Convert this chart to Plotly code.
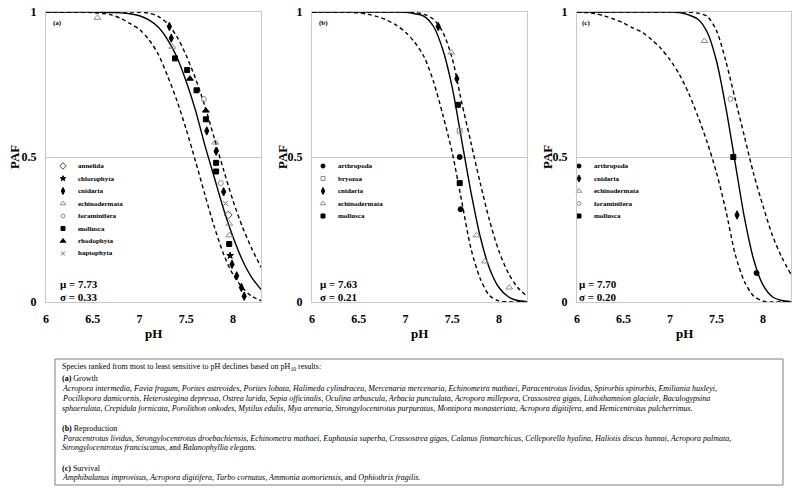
import plotly.graph_objects as go

# ---------------- data ----------------
ph_grid = [6.0, 6.1, 6.2, 6.3, 6.4, 6.5, 6.6, 6.7, 6.8, 6.9, 7.0, 7.1,
           7.2, 7.3, 7.4, 7.5, 7.6, 7.7, 7.8, 7.9, 8.0, 8.1, 8.2, 8.3]

# (a) growth
fit_a = [1, 1, 1, 1, 1, 1, 0.999, 0.998, 0.997, 0.994, 0.987, 0.973,
         0.948, 0.905, 0.845, 0.76, 0.66, 0.54, 0.43, 0.32, 0.225, 0.145, 0.085, 0.043]
lower_a = [1, 1, 1, 1, 0.999, 0.998, 0.995, 0.99, 0.978, 0.96, 0.94, 0.905,
           0.855, 0.78, 0.695, 0.595, 0.485, 0.37, 0.26, 0.165, 0.095, 0.05, 0.02, 0.005]
upper_a = [1, 1, 1, 1, 1, 1, 1, 1, 1, 1, 0.999, 0.996,
           0.985, 0.96, 0.915, 0.85, 0.77, 0.675, 0.565, 0.455, 0.35, 0.26, 0.185, 0.12]
taxa_a = ["cnidaria", "cnidaria", "cnidaria", "cnidaria", "chlorophyta", "mollusca",
          "echinodermata", "echinodermata", "annelida", "haptophyta", "cnidaria",
          "foraminifera", "mollusca", "mollusca", "cnidaria", "echinodermata", "cnidaria",
          "mollusca", "rhodophyta", "foraminifera", "mollusca", "rhodophyta", "mollusca",
          "mollusca", "echinodermata", "cnidaria", "cnidaria", "echinodermata"]
ph_a = [8.12, 8.09, 8.04, 7.99, 7.97, 7.96, 7.96, 7.96, 7.95, 7.92, 7.90, 7.87, 7.82, 7.82,
        7.82, 7.81, 7.72, 7.71, 7.71, 7.69, 7.61, 7.54, 7.51, 7.38, 7.35, 7.34, 7.32, 6.55]
paf_a = [0.02, 0.05, 0.09, 0.13, 0.16, 0.20, 0.23, 0.27, 0.30, 0.34, 0.38, 0.41, 0.45, 0.48,
         0.52, 0.55, 0.59, 0.63, 0.66, 0.70, 0.73, 0.77, 0.80, 0.84, 0.88, 0.91, 0.95, 0.98]
legend_a = ["annelida", "chlorophyta", "cnidaria", "echinodermata",
            "foraminifera", "mollusca", "rhodophyta", "haptophyta"]

# (b) reproduction
fit_b = [1, 1, 1, 1, 1, 1, 1, 1, 1, 1, 0.999, 0.994,
         0.985, 0.95, 0.87, 0.74, 0.56, 0.38, 0.225, 0.115, 0.05, 0.018, 0.005, 0.001]
lower_b = [1, 1, 1, 1, 0.999, 0.997, 0.992, 0.984, 0.972, 0.955, 0.93, 0.895,
           0.845, 0.76, 0.645, 0.515, 0.35, 0.185, 0.08, 0.022, 0.004, 0, 0, 0]
upper_b = [1, 1, 1, 1, 1, 1, 1, 1, 1, 1, 1, 0.998,
           0.992, 0.975, 0.93, 0.84, 0.69, 0.55, 0.41, 0.28, 0.175, 0.10, 0.05, 0.02]
taxa_b = ["echinodermata", "echinodermata", "echinodermata", "arthropoda", "mollusca",
          "arthropoda", "bryozoa", "mollusca", "cnidaria", "echinodermata", "cnidaria"]
ph_b = [8.11, 7.85, 7.76, 7.59, 7.58, 7.58, 7.58, 7.56, 7.55, 7.49, 7.35]
paf_b = [0.05, 0.14, 0.23, 0.32, 0.41, 0.50, 0.59, 0.68, 0.77, 0.86, 0.95]
legend_b = ["arthropoda", "bryozoa", "cnidaria", "echinodermata", "mollusca"]

# (c) survival
fit_c = [1, 1, 1, 1, 1, 1, 1, 1, 1, 1, 1, 0.998,
         0.99, 0.975, 0.93, 0.83, 0.67, 0.48, 0.29, 0.145, 0.058, 0.018, 0.005, 0.001]
lower_c = [0.999, 0.998, 0.994, 0.986, 0.975, 0.962, 0.945, 0.93, 0.905, 0.875, 0.835, 0.785,
           0.72, 0.64, 0.55, 0.445, 0.315, 0.165, 0.07, 0.02, 0.003, 0, 0, 0]
upper_c = [1, 1, 1, 1, 1, 1, 1, 1, 1, 1, 1, 1,
           0.999, 0.996, 0.985, 0.935, 0.83, 0.70, 0.57, 0.44, 0.33, 0.23, 0.155, 0.095]
taxa_c = ["arthropoda", "cnidaria", "mollusca", "foraminifera", "echinodermata"]
ph_c = [7.93, 7.72, 7.68, 7.65, 7.37]
paf_c = [0.10, 0.30, 0.50, 0.70, 0.90]
legend_c = ["arthropoda", "cnidaria", "echinodermata", "foraminifera", "mollusca"]

stats = [("7.73", "0.33"), ("7.63", "0.21"), ("7.70", "0.20")]
panel_tags = ["(a)", "(b)", "(c)"]
x_ticks = [6, 6.5, 7, 7.5, 8]
y_ticks = [0, 0.5, 1]

header = "Species ranked from most to least sensitive to pH declines based on pH<sub>10</sub> results:"
groups = [
    ("(a)", "Growth", [
        "<i>Acropora intermedia, Favia fragum, Porites astreoides, Porites lobata, Halimeda cylindracea, Mercenaria mercenaria, Echinometra mathaei, Paracentrotus lividus, Spirorbis spirorbis, Emiliania huxleyi,</i>",
        "<i>Pocillopora damicornis, Heterostegina depressa, Ostrea lurida, Sepia officinalis, Oculina arbuscula, Arbacia punctulata, Acropora millepora, Crassostrea gigas, Lithothamnion glaciale, Baculogypsina</i>",
        "<i>sphaerulata, Crepidula fornicata, Porolithon onkodes, Mytilus edulis, Mya arenaria, Strongylocentrotus purpuratus, Montipora monasteriata, Acropora digitifera,</i> and <i>Hemicentrotus pulcherrimus.</i>",
    ]),
    ("(b)", "Reproduction", [
        "<i>Paracentrotus lividus, Strongylocentrotus droebachiensis, Echinometra mathaei, Euphausia superba, Crassostrea gigas, Calanus finmarchicus, Celleporella hyalina, Haliotis discus hannai, Acropora palmata,</i>",
        "<i>Strongylocentrotus franciscanus,</i> and <i>Balanophyllia elegans.</i>",
    ]),
    ("(c)", "Survival", [
        "<i>Amphibalanus improvisus, Acropora digitifera, Turbo cornutus, Ammonia aomoriensis,</i> and <i>Ophiothrix fragilis.</i>",
    ]),
]

# ---------------- styling ----------------
FONT = "Liberation Serif, Times New Roman, serif"
W, H = 800, 494
L, R, T, B = 46, 9, 12, 192
PW, PH = W - L - R, H - T - B
XMAX = 8.3
GRID = "#c8c8c8"
BOX_FONT = 8

marker_style = {
    "annelida": dict(symbol="diamond-open", color="#444444", size=6),
    "chlorophyta": dict(symbol="star", color="black", size=5),
    "cnidaria": dict(symbol="diamond-tall", color="black", size=6),
    "echinodermata": dict(symbol="triangle-up-open", color="#8c8c8c", size=6),
    "foraminifera": dict(symbol="circle-open", color="#8c8c8c", size=5),
    "mollusca": dict(symbol="square", color="black", size=5),
    "rhodophyta": dict(symbol="triangle-up", color="black", size=6),
    "haptophyta": dict(symbol="x-thin-open", color="#6e6e6e", size=5),
    "arthropoda": dict(symbol="circle", color="black", size=5),
    "bryozoa": dict(symbol="square-open", color="#8c8c8c", size=5),
}

# pixel geometry of the three panels
lefts = [46, 312, 577]
rights = [261, 527, 791]
legend_x = [63, 323, 579]        # marker column (px)
stat_x = [58, 318, 577]
tag_x = [51, 317, 580]
paf_title_x = [14, 282, 547]


def px_x(px):
    return (px - L) / PW


def px_y(py):
    return (H - B - py) / PH


panels = [
    (fit_a, lower_a, upper_a, taxa_a, ph_a, paf_a, legend_a),
    (fit_b, lower_b, upper_b, taxa_b, ph_b, paf_b, legend_b),
    (fit_c, lower_c, upper_c, taxa_c, ph_c, paf_c, legend_c),
]

fig = go.Figure()
annotations = []

for i, (fit, lo, hi, taxa, ph, paf, leg) in enumerate(panels):
    sfx = "" if i == 0 else str(i + 1)
    xa, ya = "x" + sfx, "y" + sfx

    for curve, dash in [(lo, "4px,3px"), (hi, "4px,3px"), (fit, "solid")]:
        fig.add_trace(go.Scatter(x=ph_grid, y=curve, mode="lines", xaxis=xa, yaxis=ya,
                                 line=dict(color="black", width=1.4, dash=dash, shape="spline",
                                           smoothing=0.8),
                                 showlegend=False, hoverinfo="skip"))

    for taxon in leg:
        xs = [p for p, t in zip(ph, taxa) if t == taxon]
        ys = [v for v, t in zip(paf, taxa) if t == taxon]
        st = marker_style[taxon]
        fig.add_trace(go.Scatter(x=xs, y=ys, mode="markers", xaxis=xa, yaxis=ya, name=taxon,
                                 marker=dict(symbol=st["symbol"], size=st["size"], color=st["color"],
                                             line=dict(color=st["color"], width=1)),
                                 showlegend=False))

    # hand-drawn legend (rows 12.5 px apart)
    width_px = rights[i] - lefts[i]
    lx = 6 + (legend_x[i] - lefts[i]) / width_px * (XMAX - 6)
    for k, taxon in enumerate(leg):
        row_py = 166 + 12.5 * k
        st = marker_style[taxon]
        fig.add_trace(go.Scatter(x=[lx], y=[px_y(row_py)], mode="markers", xaxis=xa, yaxis=ya,
                                 marker=dict(symbol=st["symbol"], size=st["size"] - 1, color=st["color"],
                                             line=dict(color=st["color"], width=1)),
                                 showlegend=False, hoverinfo="skip", cliponaxis=False))
        annotations.append(dict(x=px_x(legend_x[i] + 13), y=px_y(row_py), xref="paper", yref="paper",
                                text=taxon, showarrow=False, xanchor="left", yanchor="middle",
                                font=dict(family=FONT, size=7, color="black", weight="bold")))

    mu, sigma = stats[i]
    annotations.append(dict(x=px_x(stat_x[i]), y=px_y(284), xref="paper", yref="paper",
                            text="μ = " + mu, showarrow=False, xanchor="left", yanchor="middle",
                            font=dict(family=FONT, size=11, color="black", weight="bold")))
    annotations.append(dict(x=px_x(stat_x[i]), y=px_y(297), xref="paper", yref="paper",
                            text="σ = " + sigma, showarrow=False, xanchor="left", yanchor="middle",
                            font=dict(family=FONT, size=11, color="black", weight="bold")))
    annotations.append(dict(x=px_x(tag_x[i]), y=px_y(23), xref="paper", yref="paper",
                            text=panel_tags[i], showarrow=False, xanchor="left", yanchor="middle",
                            font=dict(family=FONT, size=7, color="black", weight="bold")))
    annotations.append(dict(x=px_x(paf_title_x[i]), y=px_y(157), xref="paper", yref="paper",
                            text="PAF", showarrow=False, textangle=-90, xanchor="center", yanchor="middle",
                            font=dict(family=FONT, size=13, color="black", weight="bold")))
    annotations.append(dict(x=px_x((lefts[i] + rights[i]) / 2), y=px_y(333), xref="paper", yref="paper",
                            text="pH", showarrow=False, xanchor="center", yanchor="middle",
                            font=dict(family=FONT, size=13, color="black", weight="bold")))

    axis_common = dict(showline=True, mirror=True, linecolor=GRID, linewidth=1,
                       zeroline=False, ticks="", ticklabelstandoff=6,
                       tickfont=dict(family=FONT, size=12, color="black", weight="bold"))
    fig.layout["xaxis" + sfx] = dict(domain=[px_x(lefts[i]), px_x(rights[i])], range=[6, XMAX],
                                     tickvals=x_ticks, ticktext=[f"{v:g}" for v in x_ticks],
                                     showgrid=False, anchor=ya, **axis_common)
    fig.layout["yaxis" + sfx] = dict(domain=[0, 1], range=[0, 1], tickvals=y_ticks,
                                     ticktext=["0", "0.5", "1"], showgrid=True, gridcolor=GRID,
                                     gridwidth=1, anchor=xa, **axis_common)

# text box with species ranking
box_l, box_r, box_t, box_b = 55, 783, 359, 485
shapes = [dict(type="rect", xref="paper", yref="paper", x0=px_x(box_l), x1=px_x(box_r),
               y0=px_y(box_t), y1=px_y(box_b), line=dict(color="#7f7f7f", width=1),
               fillcolor="rgba(0,0,0,0)")]

text_x = px_x(60)
annotations.append(dict(x=text_x, y=px_y(367), xref="paper", yref="paper", text=header,
                        showarrow=False, xanchor="left", yanchor="middle",
                        font=dict(family=FONT, size=BOX_FONT, color="black")))
group_rows = [378, 428, 468]
for (tag, label, lines), gy in zip(groups, group_rows):
    annotations.append(dict(x=text_x, y=px_y(gy), xref="paper", yref="paper",
                            text=f"<b>{tag}</b> {label}", showarrow=False, xanchor="left",
                            yanchor="middle", font=dict(family=FONT, size=BOX_FONT, color="black")))
    for j, line in enumerate(lines):
        annotations.append(dict(x=text_x, y=px_y(gy + 10 + 10 * j), xref="paper", yref="paper",
                                text=line, showarrow=False, xanchor="left", yanchor="middle",
                                font=dict(family=FONT, size=BOX_FONT, color="black")))

fig.update_layout(width=W, height=H, margin=dict(l=L, r=R, t=T, b=B, autoexpand=False),
                  paper_bgcolor="white", plot_bgcolor="white", showlegend=False,
                  annotations=annotations, shapes=shapes,
                  font=dict(family=FONT, color="black"))

# the page's default 8px body margin would shift the whole figure
fig.write_html("out.html", config={"displayModeBar": False},
               post_script="document.body.style.margin='0';")
